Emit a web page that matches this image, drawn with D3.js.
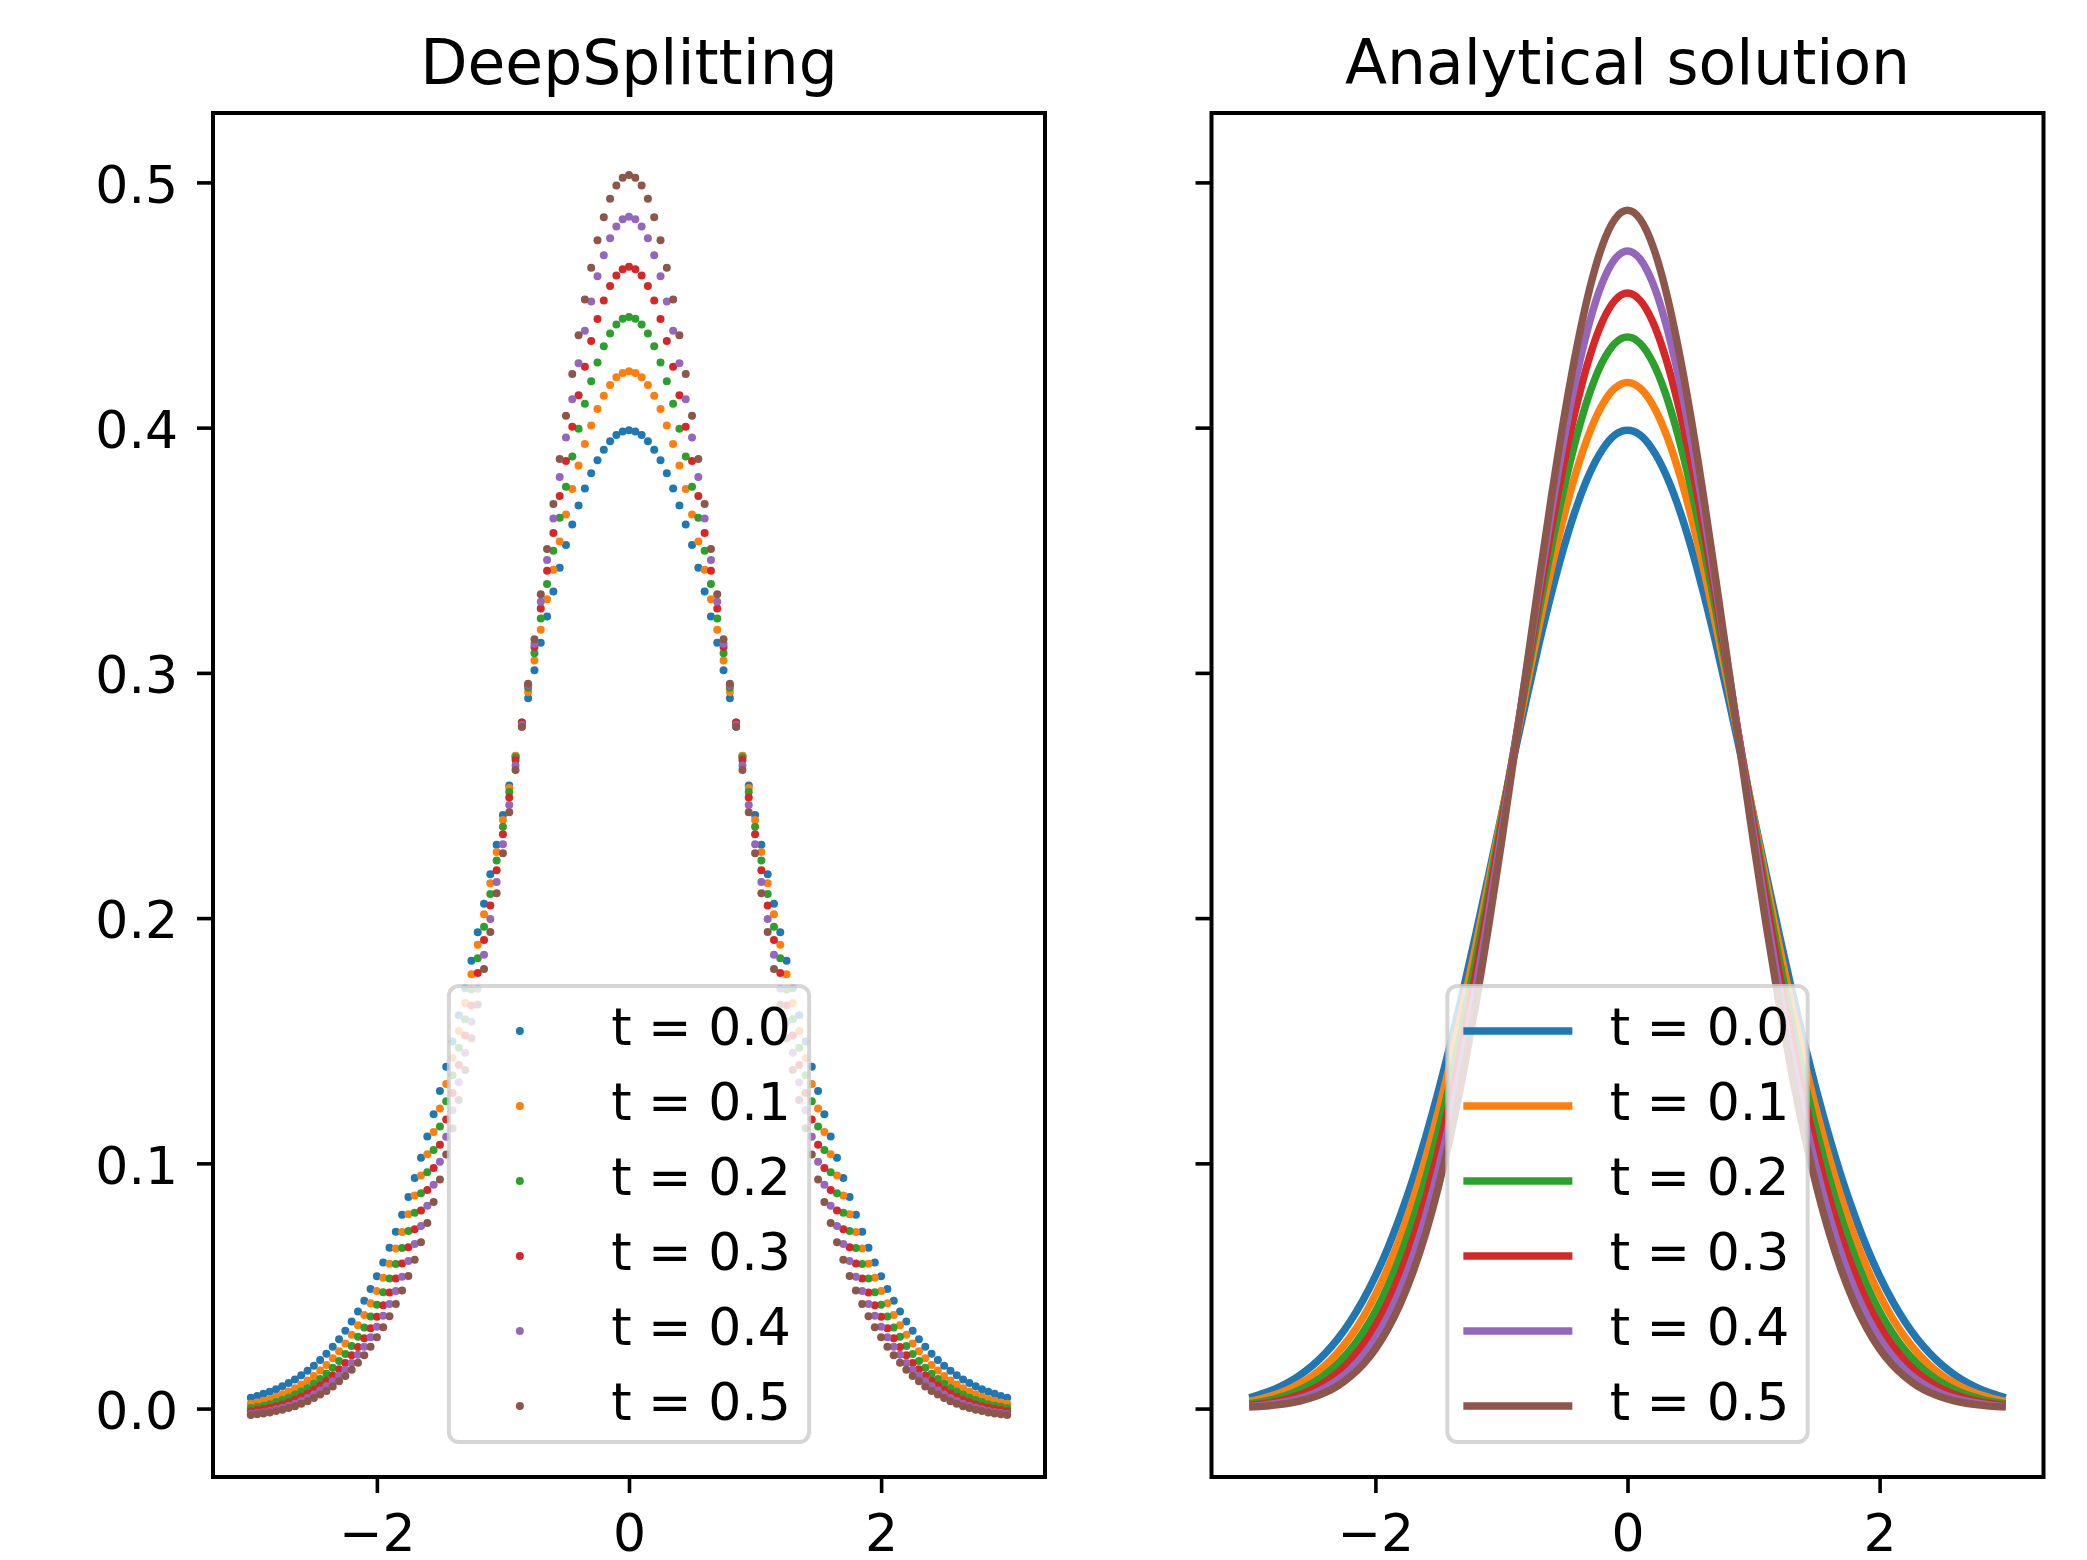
<!DOCTYPE html>
<meta charset="utf-8">
<style>
body { margin: 0; background: #fff; }
svg { display: block; font-family: "DejaVu Sans", sans-serif; }
.frame { fill: none; stroke: #000; stroke-width: 4; }
.tick line { stroke: #000; stroke-width: 3.6; }
.tick text { font-family: "DejaVu Sans", sans-serif; font-size: 52px; fill: #000; }
.title { font-family: "DejaVu Sans", sans-serif; font-size: 61.5px; text-anchor: middle; }
.legend text { font-family: "DejaVu Sans", sans-serif; font-size: 52px; }
</style>
<body>
<script src="https://d3js.org/d3.v7.min.js"></script>
<script>
// sample grids (DeepSplitting: 121 points, analytical: 61 points, both on [-3, 3])
var xDeep = d3.range(121).map(function(i) { return +(-3 + i * 0.05).toFixed(2); });
var xExact = d3.range(61).map(function(i) { return +(-3 + i * 0.1).toFixed(1); });

var labels = ["t = 0.0", "t = 0.1", "t = 0.2", "t = 0.3", "t = 0.4", "t = 0.5"];
var colors = ["#1f77b4", "#ff7f0e", "#2ca02c", "#d62728", "#9467bd", "#8c564b"];
var xTicks = [-2, 0, 2];
var yTicks = [0, 0.1, 0.2, 0.3, 0.4, 0.5];

// DeepSplitting estimates, one value per point of xDeep
var deep00 = [
  0.0044,0.0051,0.0060,0.0069,0.0079,0.0091,0.0104,0.0119,0.0136,0.0154,
  0.0175,0.0198,0.0224,0.0252,0.0283,0.0317,0.0355,0.0396,0.0440,0.0488,
  0.0540,0.0596,0.0656,0.0721,0.0790,0.0863,0.0940,0.1023,0.1109,0.1200,
  0.1295,0.1394,0.1497,0.1604,0.1714,0.1826,0.1942,0.2059,0.2179,0.2299,
  0.2420,0.2541,0.2661,0.2780,0.2897,0.3011,0.3123,0.3230,0.3332,0.3429,
  0.3521,0.3605,0.3683,0.3752,0.3814,0.3867,0.3910,0.3945,0.3970,0.3984,
  0.3989,
  0.3984,0.3970,0.3945,0.3910,0.3867,0.3814,0.3752,0.3683,0.3605,0.3521,
  0.3429,0.3332,0.3230,0.3123,0.3011,0.2897,0.2780,0.2661,0.2541,0.2420,
  0.2299,0.2179,0.2059,0.1942,0.1826,0.1714,0.1604,0.1497,0.1394,0.1295,
  0.1200,0.1109,0.1023,0.0940,0.0863,0.0790,0.0721,0.0656,0.0596,0.0540,
  0.0488,0.0440,0.0396,0.0355,0.0317,0.0283,0.0252,0.0224,0.0198,0.0175,
  0.0154,0.0136,0.0119,0.0104,0.0091,0.0079,0.0069,0.0060,0.0051,0.0044];
var deep01 = [
  0.0020,0.0025,0.0032,0.0039,0.0048,0.0058,0.0070,0.0083,0.0098,0.0115,
  0.0133,0.0155,0.0178,0.0205,0.0234,0.0265,0.0301,0.0340,0.0382,0.0429,
  0.0479,0.0533,0.0591,0.0653,0.0720,0.0792,0.0869,0.0950,0.1037,0.1128,
  0.1224,0.1324,0.1430,0.1540,0.1654,0.1771,0.1891,0.2016,0.2142,0.2270,
  0.2400,0.2531,0.2662,0.2792,0.2922,0.3050,0.3176,0.3300,0.3420,0.3536,
  0.3646,0.3750,0.3846,0.3933,0.4009,0.4076,0.4130,0.4174,0.4205,0.4223,
  0.4230,
  0.4223,0.4205,0.4174,0.4130,0.4076,0.4009,0.3933,0.3846,0.3750,0.3646,
  0.3536,0.3420,0.3300,0.3176,0.3050,0.2922,0.2792,0.2662,0.2531,0.2400,
  0.2270,0.2142,0.2016,0.1891,0.1771,0.1654,0.1540,0.1430,0.1324,0.1224,
  0.1128,0.1037,0.0950,0.0869,0.0792,0.0720,0.0653,0.0591,0.0533,0.0479,
  0.0429,0.0382,0.0340,0.0301,0.0265,0.0234,0.0205,0.0178,0.0155,0.0133,
  0.0115,0.0098,0.0083,0.0070,0.0058,0.0048,0.0039,0.0032,0.0025,0.0020];
var deep02 = [
  0.0002,0.0007,0.0012,0.0018,0.0027,0.0035,0.0044,0.0057,0.0070,0.0084,
  0.0102,0.0121,0.0142,0.0166,0.0194,0.0223,0.0255,0.0293,0.0331,0.0375,
  0.0423,0.0474,0.0530,0.0590,0.0655,0.0724,0.0799,0.0878,0.0964,0.1054,
  0.1150,0.1253,0.1359,0.1471,0.1588,0.1709,0.1836,0.1965,0.2098,0.2235,
  0.2373,0.2514,0.2656,0.2798,0.2939,0.3080,0.3222,0.3362,0.3498,0.3633,
  0.3759,0.3882,0.3995,0.4097,0.4189,0.4266,0.4332,0.4384,0.4421,0.4444,
  0.4451,
  0.4444,0.4421,0.4384,0.4332,0.4266,0.4189,0.4097,0.3995,0.3882,0.3759,
  0.3633,0.3498,0.3362,0.3222,0.3080,0.2939,0.2798,0.2656,0.2514,0.2373,
  0.2235,0.2098,0.1965,0.1836,0.1709,0.1588,0.1471,0.1359,0.1253,0.1150,
  0.1054,0.0964,0.0878,0.0799,0.0724,0.0655,0.0590,0.0530,0.0474,0.0423,
  0.0375,0.0331,0.0293,0.0255,0.0223,0.0194,0.0166,0.0142,0.0121,0.0102,
  0.0084,0.0070,0.0057,0.0044,0.0035,0.0027,0.0018,0.0012,0.0007,0.0002];
var deep03 = [
  -0.0011,-0.0006,-0.0002,0.0003,0.0010,0.0017,0.0026,0.0036,0.0048,0.0061,
  0.0077,0.0094,0.0113,0.0135,0.0160,0.0186,0.0217,0.0251,0.0287,0.0328,
  0.0374,0.0421,0.0473,0.0530,0.0592,0.0658,0.0731,0.0808,0.0891,0.0981,
  0.1076,0.1179,0.1287,0.1401,0.1521,0.1644,0.1776,0.1911,0.2051,0.2195,
  0.2342,0.2492,0.2645,0.2798,0.2951,0.3106,0.3262,0.3416,0.3570,0.3721,
  0.3864,0.4004,0.4132,0.4248,0.4353,0.4443,0.4518,0.4578,0.4620,0.4646,
  0.4656,
  0.4646,0.4620,0.4578,0.4518,0.4443,0.4353,0.4248,0.4132,0.4004,0.3864,
  0.3721,0.3570,0.3416,0.3262,0.3106,0.2951,0.2798,0.2645,0.2492,0.2342,
  0.2195,0.2051,0.1911,0.1776,0.1644,0.1521,0.1401,0.1287,0.1179,0.1076,
  0.0981,0.0891,0.0808,0.0731,0.0658,0.0592,0.0530,0.0473,0.0421,0.0374,
  0.0328,0.0287,0.0251,0.0217,0.0186,0.0160,0.0135,0.0113,0.0094,0.0077,
  0.0061,0.0048,0.0036,0.0026,0.0017,0.0010,0.0003,-0.0002,-0.0006,-0.0011];
var deep04 = [
  -0.0022,-0.0018,-0.0015,-0.0010,-0.0003,0.0003,0.0011,0.0020,0.0031,0.0043,
  0.0057,0.0074,0.0091,0.0111,0.0134,0.0158,0.0186,0.0220,0.0252,0.0291,
  0.0334,0.0379,0.0426,0.0479,0.0538,0.0602,0.0671,0.0745,0.0827,0.0913,
  0.1006,0.1108,0.1216,0.1331,0.1451,0.1577,0.1712,0.1851,0.1996,0.2147,
  0.2301,0.2461,0.2622,0.2787,0.2951,0.3119,0.3290,0.3460,0.3629,0.3799,
  0.3960,0.4116,0.4263,0.4395,0.4514,0.4617,0.4703,0.4772,0.4820,0.4850,
  0.4860,
  0.4850,0.4820,0.4772,0.4703,0.4617,0.4514,0.4395,0.4263,0.4116,0.3960,
  0.3799,0.3629,0.3460,0.3290,0.3119,0.2951,0.2787,0.2622,0.2461,0.2301,
  0.2147,0.1996,0.1851,0.1712,0.1577,0.1451,0.1331,0.1216,0.1108,0.1006,
  0.0913,0.0827,0.0745,0.0671,0.0602,0.0538,0.0479,0.0426,0.0379,0.0334,
  0.0291,0.0252,0.0220,0.0186,0.0158,0.0134,0.0111,0.0091,0.0074,0.0057,
  0.0043,0.0031,0.0020,0.0011,0.0003,-0.0003,-0.0010,-0.0015,-0.0018,-0.0022];
var deep05 = [
  -0.0026,-0.0023,-0.0020,-0.0016,-0.0010,-0.0005,0.0002,0.0010,0.0020,0.0030,
  0.0043,0.0057,0.0072,0.0090,0.0111,0.0133,0.0158,0.0187,0.0217,0.0252,
  0.0291,0.0332,0.0377,0.0426,0.0481,0.0541,0.0607,0.0678,0.0757,0.0842,
  0.0934,0.1036,0.1143,0.1258,0.1381,0.1510,0.1648,0.1792,0.1943,0.2101,
  0.2264,0.2432,0.2604,0.2780,0.2956,0.3137,0.3321,0.3505,0.3689,0.3872,
  0.4048,0.4219,0.4377,0.4522,0.4652,0.4764,0.4858,0.4933,0.4987,0.5019,
  0.5030,
  0.5019,0.4987,0.4933,0.4858,0.4764,0.4652,0.4522,0.4377,0.4219,0.4048,
  0.3872,0.3689,0.3505,0.3321,0.3137,0.2956,0.2780,0.2604,0.2432,0.2264,
  0.2101,0.1943,0.1792,0.1648,0.1510,0.1381,0.1258,0.1143,0.1036,0.0934,
  0.0842,0.0757,0.0678,0.0607,0.0541,0.0481,0.0426,0.0377,0.0332,0.0291,
  0.0252,0.0217,0.0187,0.0158,0.0133,0.0111,0.0090,0.0072,0.0057,0.0043,
  0.0030,0.0020,0.0010,0.0002,-0.0005,-0.0010,-0.0016,-0.0020,-0.0023,-0.0026];

// analytical solution, one value per point of xExact
var exact00 = [
  0.0044,0.0060,0.0079,0.0104,0.0136,0.0175,0.0224,0.0283,0.0355,0.0440,
  0.0540,0.0656,0.0790,0.0940,0.1109,0.1295,0.1497,0.1714,0.1942,0.2179,
  0.2420,0.2661,0.2897,0.3123,0.3332,0.3521,0.3683,0.3814,0.3910,0.3970,
  0.3989,
  0.3970,0.3910,0.3814,0.3683,0.3521,0.3332,0.3123,0.2897,0.2661,0.2420,
  0.2179,0.1942,0.1714,0.1497,0.1295,0.1109,0.0940,0.0790,0.0656,0.0540,
  0.0440,0.0355,0.0283,0.0224,0.0175,0.0136,0.0104,0.0079,0.0060,0.0044];
var exact01 = [
  0.0030,0.0041,0.0056,0.0076,0.0102,0.0134,0.0176,0.0228,0.0292,0.0370,
  0.0464,0.0575,0.0704,0.0854,0.1024,0.1214,0.1424,0.1652,0.1895,0.2151,
  0.2414,0.2680,0.2943,0.3196,0.3433,0.3647,0.3832,0.3982,0.4093,0.4161,
  0.4184,
  0.4161,0.4093,0.3982,0.3832,0.3647,0.3433,0.3196,0.2943,0.2680,0.2414,
  0.2151,0.1895,0.1652,0.1424,0.1214,0.1024,0.0854,0.0704,0.0575,0.0464,
  0.0370,0.0292,0.0228,0.0176,0.0134,0.0102,0.0076,0.0056,0.0041,0.0030];
var exact02 = [
  0.0020,0.0028,0.0040,0.0055,0.0076,0.0103,0.0138,0.0183,0.0239,0.0310,
  0.0396,0.0501,0.0626,0.0772,0.0941,0.1133,0.1348,0.1585,0.1842,0.2114,
  0.2398,0.2688,0.2977,0.3257,0.3521,0.3761,0.3970,0.4141,0.4267,0.4344,
  0.4370,
  0.4344,0.4267,0.4141,0.3970,0.3761,0.3521,0.3257,0.2977,0.2688,0.2398,
  0.2114,0.1842,0.1585,0.1348,0.1133,0.0941,0.0772,0.0626,0.0501,0.0396,
  0.0310,0.0239,0.0183,0.0138,0.0103,0.0076,0.0055,0.0040,0.0028,0.0020];
var exact03 = [
  0.0013,0.0019,0.0028,0.0040,0.0056,0.0078,0.0108,0.0146,0.0196,0.0259,
  0.0338,0.0435,0.0554,0.0695,0.0861,0.1054,0.1272,0.1517,0.1784,0.2072,
  0.2375,0.2687,0.3001,0.3308,0.3600,0.3866,0.4099,0.4290,0.4432,0.4519,
  0.4549,
  0.4519,0.4432,0.4290,0.4099,0.3866,0.3600,0.3308,0.3001,0.2687,0.2375,
  0.2072,0.1784,0.1517,0.1272,0.1054,0.0861,0.0695,0.0554,0.0435,0.0338,
  0.0259,0.0196,0.0146,0.0108,0.0078,0.0056,0.0040,0.0028,0.0019,0.0013];
var exact04 = [
  0.0009,0.0013,0.0020,0.0029,0.0042,0.0059,0.0084,0.0116,0.0159,0.0215,
  0.0287,0.0377,0.0489,0.0624,0.0787,0.0977,0.1197,0.1446,0.1723,0.2024,
  0.2344,0.2677,0.3016,0.3350,0.3669,0.3963,0.4220,0.4432,0.4590,0.4687,
  0.4720,
  0.4687,0.4590,0.4432,0.4220,0.3963,0.3669,0.3350,0.3016,0.2677,0.2344,
  0.2024,0.1723,0.1446,0.1197,0.0977,0.0787,0.0624,0.0489,0.0377,0.0287,
  0.0215,0.0159,0.0116,0.0084,0.0059,0.0042,0.0029,0.0020,0.0013,0.0009];
var exact05 = [
  0.0006,0.0009,0.0014,0.0021,0.0031,0.0045,0.0065,0.0092,0.0130,0.0179,
  0.0243,0.0326,0.0430,0.0559,0.0716,0.0904,0.1123,0.1376,0.1659,0.1972,
  0.2308,0.2661,0.3023,0.3383,0.3730,0.4051,0.4333,0.4567,0.4742,0.4850,
  0.4886,
  0.4850,0.4742,0.4567,0.4333,0.4051,0.3730,0.3383,0.3023,0.2661,0.2308,
  0.1972,0.1659,0.1376,0.1123,0.0904,0.0716,0.0559,0.0430,0.0326,0.0243,
  0.0179,0.0130,0.0092,0.0065,0.0045,0.0031,0.0021,0.0014,0.0009,0.0006];

var deepSeries = [deep00, deep01, deep02, deep03, deep04, deep05];
var exactSeries = [exact00, exact01, exact02, exact03, exact04, exact05];

// figure geometry (pixels)
var width = 2087, height = 1560;
var axTop = 113, axBottom = 1477, axWidth = 832;
var panels = [
  {left: 213, title: "DeepSplitting", kind: "dots", labels: true},
  {left: 1211.5, title: "Analytical solution", kind: "lines", labels: false}
];

var svg = d3.select("body").append("svg")
    .attr("width", width)
    .attr("height", height);

svg.append("rect").attr("width", width).attr("height", height).attr("fill", "#fff");

var y = d3.scaleLinear()
    .domain([-0.0279, 0.5283])
    .range([axBottom, axTop]);

function minus(d) { return d < 0 ? "\u2212" + Math.abs(d) : String(d); }

panels.forEach(function(p) {
  var x = d3.scaleLinear()
      .domain([-3.3, 3.3])
      .range([p.left, p.left + axWidth]);

  var g = svg.append("g");

  if (p.kind === "dots") {
    deepSeries.forEach(function(vals, k) {
      g.append("g").selectAll("circle")
          .data(vals)
        .enter().append("circle")
          .attr("cx", function(d, i) { return x(xDeep[i]); })
          .attr("cy", function(d) { return y(d); })
          .attr("r", 4)
          .attr("fill", colors[k]);
    });
  } else {
    var line = d3.line()
        .x(function(d, i) { return x(xExact[i]); })
        .y(function(d) { return y(d); })
        .curve(d3.curveMonotoneX);
    exactSeries.forEach(function(vals, k) {
      g.append("path")
          .datum(vals)
          .attr("d", line)
          .attr("fill", "none")
          .attr("stroke", colors[k])
          .attr("stroke-width", 7.5)
          .attr("stroke-linejoin", "round");
    });
  }

  // x axis
  var xa = g.append("g")
      .attr("transform", "translate(0," + axBottom + ")")
      .call(d3.axisBottom(x).tickValues(xTicks).tickSize(16).tickPadding(21).tickFormat(minus));
  xa.attr("font-family", null).attr("font-size", null);
  xa.select(".domain").remove();

  // y axis (labels only on the left panel)
  var ya = g.append("g")
      .attr("transform", "translate(" + p.left + ",0)")
      .call(d3.axisLeft(y).tickValues(yTicks).tickSize(16).tickPadding(19)
        .tickFormat(p.labels ? d3.format(".1f") : function() { return ""; }));
  ya.attr("font-family", null).attr("font-size", null);
  ya.select(".domain").remove();
  ya.selectAll("text").attr("dy", "0.38em");

  // frame
  g.append("rect")
      .attr("class", "frame")
      .attr("x", p.left)
      .attr("y", axTop)
      .attr("width", axWidth)
      .attr("height", axBottom - axTop);

  // title
  g.append("text")
      .attr("class", "title")
      .attr("x", x(0))
      .attr("y", 84)
      .text(p.title);

  // legend, lower center
  var lgW = 360.3, lgH = 456, lgX = x(0) - lgW / 2, lgY = 986;
  var lg = g.append("g").attr("class", "legend");
  lg.append("rect")
      .attr("x", lgX).attr("y", lgY)
      .attr("width", lgW).attr("height", lgH)
      .attr("rx", 10).attr("ry", 10)
      .attr("fill", "#fff").attr("fill-opacity", 0.8)
      .attr("stroke", "#cccccc").attr("stroke-opacity", 0.8)
      .attr("stroke-width", 4);

  labels.forEach(function(lab, k) {
    var base = 1045 + 75 * k;
    if (p.kind === "dots") {
      lg.append("circle")
          .attr("cx", lgX + 71).attr("cy", base - 14)
          .attr("r", 4).attr("fill", colors[k]);
    } else {
      lg.append("line")
          .attr("x1", lgX + 16).attr("x2", lgX + 125)
          .attr("y1", base - 14).attr("y2", base - 14)
          .attr("stroke", colors[k]).attr("stroke-width", 7.5);
    }
    lg.append("text")
        .attr("x", lgX + 162.3)
        .attr("y", base)
        .text(lab);
  });
});
</script>
</body>
